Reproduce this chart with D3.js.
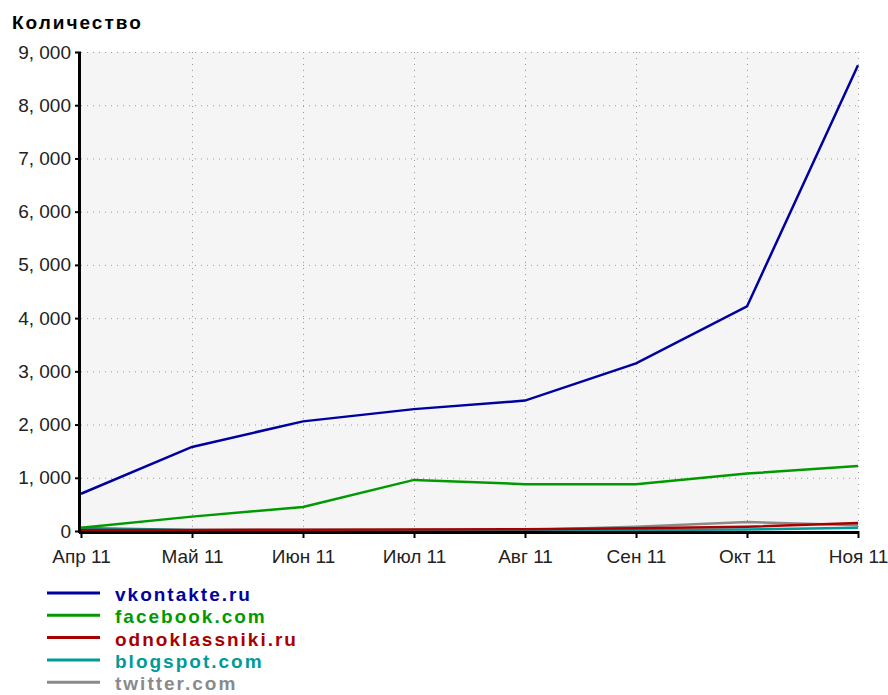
<!DOCTYPE html>
<html>
<head>
<meta charset="utf-8">
<title>Количество</title>
<script src="https://d3js.org/d3.v7.min.js"></script>
<style>
  body { margin: 0; background: #fff; }
  text { font-family: "Liberation Sans", Arial, sans-serif; }
</style>
</head>
<body>
<div id="chart"></div>
<script>
// months on the x axis
var months = ["Апр 11", "Май 11", "Июн 11", "Июл 11", "Авг 11", "Сен 11", "Окт 11", "Ноя 11"];
var yTicks = [0, 1000, 2000, 3000, 4000, 5000, 6000, 7000, 8000, 9000];

var seriesNames = ["vkontakte.ru", "facebook.com", "odnoklassniki.ru", "blogspot.com", "twitter.com"];
var seriesColors = ["#0000a0", "#009a00", "#a80000", "#009a9a", "#8a8a8a"];

var vkontakte = [700, 1580, 2060, 2290, 2450, 3150, 4220, 8750];
var facebook = [60, 270, 450, 960, 880, 880, 1080, 1220];
var odnoklassniki = [20, 20, 25, 30, 35, 50, 80, 150];
var blogspot = [55, 20, 20, 20, 20, 20, 30, 60];
var twitter = [0, 0, 0, 0, 20, 80, 170, 110];

var seriesValues = [vkontakte, facebook, odnoklassniki, blogspot, twitter];

var margin = { top: 52, right: 30, bottom: 164, left: 81 },
    width = 888 - margin.left - margin.right,
    height = 695 - margin.top - margin.bottom;

var svg = d3.select("#chart").append("svg")
    .attr("width", 888)
    .attr("height", 695);

svg.append("text")
    .attr("x", 12)
    .attr("y", 29)
    .style("font-size", "19px")
    .style("font-weight", "bold")
    .style("letter-spacing", "2px")
    .text("Количество");

var chart = svg.append("g")
    .attr("transform", "translate(" + margin.left + "," + margin.top + ")");

var xScale = d3.scalePoint()
    .domain(months)
    .range([0, width]);

var yScale = d3.scaleLinear()
    .domain([0, 9000])
    .range([height, 0]);

chart.append("rect")
    .attr("width", width)
    .attr("height", height)
    .attr("fill", "#f5f5f5");

// dotted grid
chart.append("g")
    .selectAll("line")
    .data(yTicks.slice(1))
    .enter().append("line")
    .attr("x1", 0).attr("x2", width)
    .attr("y1", d => yScale(d) + 0.5).attr("y2", d => yScale(d) + 0.5)
    .attr("stroke", "#999").attr("stroke-dasharray", "1,5");

chart.append("g")
    .selectAll("line")
    .data(months.slice(1))
    .enter().append("line")
    .attr("x1", d => xScale(d) + 0.5).attr("x2", d => xScale(d) + 0.5)
    .attr("y1", 0).attr("y2", height)
    .attr("stroke", "#999").attr("stroke-dasharray", "1,5");

// lines, last series first so vkontakte ends on top
var line = d3.line()
    .x((d, i) => xScale(months[i]))
    .y(d => yScale(d));

chart.append("g")
    .selectAll("path")
    .data(d3.range(seriesNames.length).reverse())
    .enter().append("path")
    .attr("d", i => line(seriesValues[i]))
    .attr("fill", "none")
    .attr("stroke", i => seriesColors[i])
    .attr("stroke-width", 2.5);

// axes
var xAxis = chart.append("g")
    .attr("transform", "translate(0," + height + ")")
    .call(d3.axisBottom(xScale).tickSize(7).tickPadding(12));
xAxis.select(".domain").attr("stroke-width", 3).attr("d", "M-2,1.5H" + width);
xAxis.selectAll(".tick line").attr("stroke-width", 2);
xAxis.selectAll("text").style("font-size", "19px").attr("fill", "#222");

var yAxis = chart.append("g")
    .call(d3.axisLeft(yScale).tickValues(yTicks).tickSize(6).tickPadding(4)
        .tickFormat(d => d3.format(",")(d).replace(",", ", ")));
yAxis.select(".domain").attr("stroke-width", 3).attr("d", "M-1.5,0V" + (height + 2));
yAxis.selectAll(".tick line").attr("stroke-width", 2);
yAxis.selectAll("text").style("font-size", "19px").attr("fill", "#222");

// legend
var legend = svg.append("g")
    .attr("transform", "translate(47,593)");
var rows = legend.selectAll("g")
    .data(seriesNames)
    .enter().append("g")
    .attr("transform", (d, i) => "translate(0," + i * 22.3 + ")");
rows.append("line")
    .attr("x1", 0).attr("x2", 53)
    .attr("stroke", (d, i) => seriesColors[i])
    .attr("stroke-width", 3);
rows.append("text")
    .attr("x", 68)
    .attr("y", 8)
    .style("font-size", "19px")
    .style("font-weight", "bold")
    .style("letter-spacing", "2px")
    .attr("fill", (d, i) => seriesColors[i])
    .text(d => d);
</script>
</body>
</html>
